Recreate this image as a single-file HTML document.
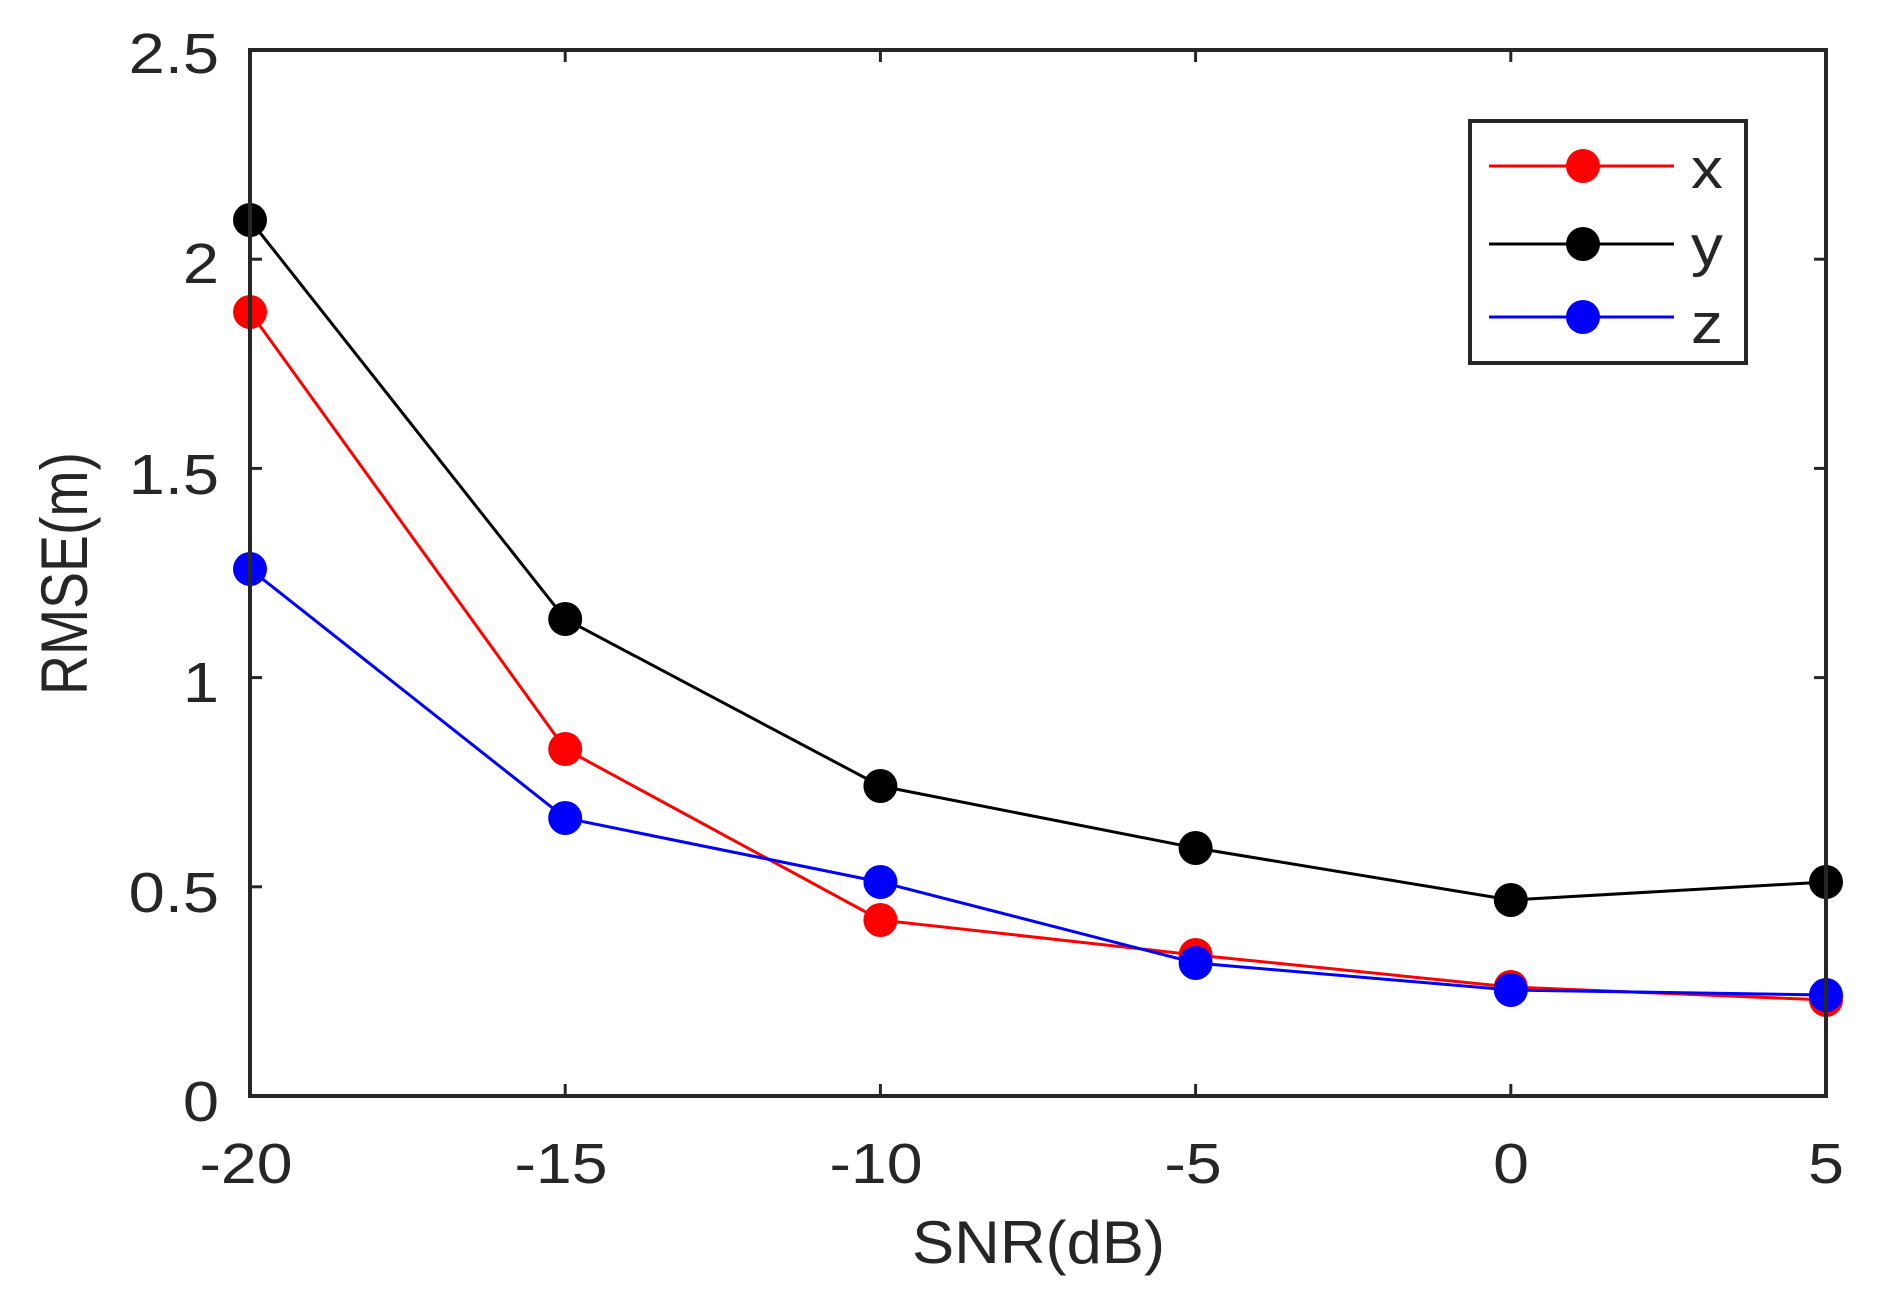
<!DOCTYPE html>
<html>
<head>
<meta charset="utf-8">
<style>
html,body{margin:0;padding:0;background:#fff;}
svg{display:block;}
text{font-family:"Liberation Sans",Arial,sans-serif;fill:#262626;}
</style>
</head>
<body>
<svg width="1879" height="1292" viewBox="0 0 1879 1292" xmlns="http://www.w3.org/2000/svg">
<rect width="1879" height="1292" fill="#fff"/>
<!-- ticks -->
<g stroke="#262626" stroke-width="3">
<line x1="565.2" y1="1096" x2="565.2" y2="1084"/>
<line x1="880.4" y1="1096" x2="880.4" y2="1084"/>
<line x1="1195.6" y1="1096" x2="1195.6" y2="1084"/>
<line x1="1510.8" y1="1096" x2="1510.8" y2="1084"/>
<line x1="565.2" y1="50" x2="565.2" y2="62"/>
<line x1="880.4" y1="50" x2="880.4" y2="62"/>
<line x1="1195.6" y1="50" x2="1195.6" y2="62"/>
<line x1="1510.8" y1="50" x2="1510.8" y2="62"/>
<line x1="250" y1="886.8" x2="262" y2="886.8"/>
<line x1="250" y1="677.6" x2="262" y2="677.6"/>
<line x1="250" y1="468.4" x2="262" y2="468.4"/>
<line x1="250" y1="259.2" x2="262" y2="259.2"/>
<line x1="1826" y1="886.8" x2="1814" y2="886.8"/>
<line x1="1826" y1="677.6" x2="1814" y2="677.6"/>
<line x1="1826" y1="468.4" x2="1814" y2="468.4"/>
<line x1="1826" y1="259.2" x2="1814" y2="259.2"/>
</g>
<!-- series -->
<g fill="none" stroke-width="3">
<polyline stroke="#ff0000" points="250,312 565.2,749 880.4,920 1195.6,955 1510.8,987 1826,1000"/>
<polyline stroke="#000000" points="250,220 565.2,619 880.4,786 1195.6,848 1510.8,900 1826,882"/>
<polyline stroke="#0000ff" points="250,569 565.2,818 880.4,882 1195.6,963 1510.8,990 1826,995"/>
</g>
<g fill="#ff0000">
<circle cx="250" cy="312" r="17"/><circle cx="565.2" cy="749" r="17"/><circle cx="880.4" cy="920" r="17"/>
<circle cx="1195.6" cy="955" r="17"/><circle cx="1510.8" cy="987" r="17"/><circle cx="1826" cy="1000" r="17"/>
</g>
<g fill="#000000">
<circle cx="250" cy="220" r="17"/><circle cx="565.2" cy="619" r="17"/><circle cx="880.4" cy="786" r="17"/>
<circle cx="1195.6" cy="848" r="17"/><circle cx="1510.8" cy="900" r="17"/><circle cx="1826" cy="882" r="17"/>
</g>
<g fill="#0000ff">
<circle cx="250" cy="569" r="17"/><circle cx="565.2" cy="818" r="17"/><circle cx="880.4" cy="882" r="17"/>
<circle cx="1195.6" cy="963" r="17"/><circle cx="1510.8" cy="990" r="17"/><circle cx="1826" cy="995" r="17"/>
</g>
<!-- axes box -->
<rect x="250" y="50" width="1576" height="1046" fill="none" stroke="#262626" stroke-width="4"/>
<!-- y tick labels -->
<g font-size="57" text-anchor="end">
<text transform="translate(219,1121) scale(1.14,1)">0</text>
<text transform="translate(219,912) scale(1.14,1)">0.5</text>
<text transform="translate(219,702) scale(1.14,1)">1</text>
<text transform="translate(219,494) scale(1.14,1)">1.5</text>
<text transform="translate(219,283) scale(1.14,1)">2</text>
<text transform="translate(219,73) scale(1.14,1)">2.5</text>
</g>
<!-- x tick labels -->
<g font-size="57" text-anchor="middle">
<text transform="translate(246,1183) scale(1.13,1)">-20</text>
<text transform="translate(561,1183) scale(1.13,1)">-15</text>
<text transform="translate(876,1183) scale(1.13,1)">-10</text>
<text transform="translate(1193,1183) scale(1.13,1)">-5</text>
<text transform="translate(1511,1183) scale(1.13,1)">0</text>
<text transform="translate(1826,1183) scale(1.13,1)">5</text>
</g>
<!-- axis labels -->
<text x="912" y="1263" font-size="60" textLength="253" lengthAdjust="spacingAndGlyphs">SNR(dB)</text>
<text transform="translate(87,695) rotate(-90)" x="0" y="0" font-size="66" textLength="243" lengthAdjust="spacingAndGlyphs">RMSE(m)</text>
<!-- legend -->
<rect x="1470" y="121" width="276" height="242" fill="#fff" stroke="#262626" stroke-width="4"/>
<g stroke-width="3">
<line x1="1489" y1="166" x2="1674" y2="166" stroke="#ff0000"/>
<line x1="1489" y1="244" x2="1674" y2="244" stroke="#000000"/>
<line x1="1489" y1="317" x2="1674" y2="317" stroke="#0000ff"/>
</g>
<circle cx="1583" cy="166" r="17" fill="#ff0000"/>
<circle cx="1583" cy="244" r="17" fill="#000000"/>
<circle cx="1583" cy="317" r="17" fill="#0000ff"/>
<g font-size="57" style="fill:#111">
<text transform="translate(1691,188) scale(1.12,1)">x</text>
<text transform="translate(1691,265) scale(1.12,1)">y</text>
<text transform="translate(1691,343) scale(1.12,1)">z</text>
</g>
</svg>
</body>
</html>
